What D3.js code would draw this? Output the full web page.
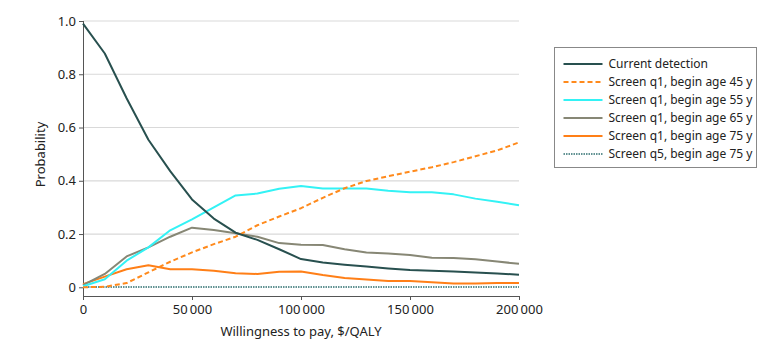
<!DOCTYPE html>
<html>
<head>
<meta charset="utf-8">
<script src="https://cdn.jsdelivr.net/npm/d3@7"></script>
<style>
  html, body { margin: 0; padding: 0; background: #fff; overflow: hidden; }
  .chart { width: 780px; height: 351px; }
  .chart svg { display: block; }
</style>
</head>
<body>
<div class="chart"></div>
<script>
// ----------------------------------
// DATA
// ----------------------------------
const wtp = [0, 10000, 20000, 30000, 40000, 50000, 60000, 70000, 80000, 90000, 100000,
             110000, 120000, 130000, 140000, 150000, 160000, 170000, 180000, 190000, 200000];

const currentDetection = [0.99, 0.878, 0.71, 0.554, 0.436, 0.33, 0.258, 0.205, 0.178, 0.143, 0.106,
                          0.093, 0.085, 0.078, 0.071, 0.065, 0.062, 0.059, 0.056, 0.052, 0.047];
const q1Age45 = [0.0, 0.002, 0.016, 0.056, 0.096, 0.131, 0.162, 0.19, 0.233, 0.266, 0.297,
                 0.336, 0.372, 0.399, 0.417, 0.434, 0.451, 0.47, 0.492, 0.514, 0.544];
const q1Age55 = [0.004, 0.03, 0.10, 0.15, 0.214, 0.255, 0.30, 0.345, 0.352, 0.37, 0.38,
                 0.371, 0.371, 0.371, 0.363, 0.357, 0.357, 0.349, 0.333, 0.321, 0.308];
const q1Age65 = [0.008, 0.05, 0.116, 0.15, 0.19, 0.224, 0.215, 0.203, 0.19, 0.166, 0.16,
                 0.159, 0.143, 0.131, 0.127, 0.121, 0.111, 0.11, 0.105, 0.097, 0.088];
const q1Age75 = [0.012, 0.04, 0.068, 0.083, 0.068, 0.068, 0.062, 0.053, 0.05, 0.058, 0.059,
                 0.046, 0.035, 0.029, 0.024, 0.024, 0.019, 0.014, 0.014, 0.016, 0.016];
const q5Age75 = [0.001, 0.001, 0.001, 0.001, 0.001, 0.001, 0.001, 0.001, 0.001, 0.001, 0.001,
                 0.001, 0.001, 0.001, 0.001, 0.001, 0.001, 0.001, 0.001, 0.001, 0.001];

const seriesNames = ['Current detection', 'Screen q1, begin age 45 y', 'Screen q1, begin age 55 y',
                     'Screen q1, begin age 65 y', 'Screen q1, begin age 75 y', 'Screen q5, begin age 75 y'];
const seriesValues = [currentDetection, q1Age45, q1Age55, q1Age65, q1Age75, q5Age75];
const xTicks = [0, 50000, 100000, 150000, 200000];
const yTicks = [0, 0.2, 0.4, 0.6, 0.8, 1.0];

// styles per series, same order as the names
const seriesColors = ['#28504f', '#ff8a1c', '#33f2f5', '#878775', '#ff7f17', '#2f6f70'];
const seriesDash = [null, '5,3', null, null, null, '1.5,1'];
const seriesWidth = [2, 2, 2, 2, 2, 1.6];

const FONT = '"Noto Sans", "DejaVu Sans", sans-serif';

// ----------------------------------
// SETUP
// ----------------------------------
const width = 780, height = 351,
      margin = { top: 21, right: 261, bottom: 63, left: 83 },
      innerWidth = width - margin.left - margin.right,
      innerHeight = height - margin.top - margin.bottom;

const xScale = d3.scaleLinear().domain([0, 200000]).range([0, innerWidth]);
const yScale = d3.scaleLinear().domain([0, 1]).range([innerHeight - 0.7, 0]);

const svg = d3.select('.chart').append('svg')
    .attr('width', width)
    .attr('height', height)
    .attr('font-family', FONT);

const chartInner = svg.append('g')
    .attr('transform', `translate(${margin.left},${margin.top})`);

// grid lines
chartInner.append('g').selectAll('line')
    .data(yTicks.filter(d => d > 0))
    .enter().append('line')
    .attr('x1', 0).attr('x2', innerWidth)
    .attr('y1', d => yScale(d)).attr('y2', d => yScale(d))
    .attr('stroke', '#d9d9d9').attr('stroke-width', 1.2);

// ----------------------------------
// AXES
// ----------------------------------
const fmtX = d => d === 0 ? '0' : d3.format(',')(d).replace(/,/g, '\u2009');
const fmtY = d => d === 0 ? '0' : d3.format('.1f')(d);

const axisY = 275;
const yAxis = chartInner.append('g')
    .call(d3.axisLeft(yScale).tickValues(yTicks).tickFormat(fmtY).tickSize(4).tickSizeOuter(0).tickPadding(3))
    .attr('font-family', FONT)
    .attr('font-size', 13);
yAxis.select('.domain').attr('d', `M0.5,${yScale(1)}V${axisY}`);

const xAxis = chartInner.append('g')
    .attr('transform', `translate(0,${axisY})`)
    .call(d3.axisBottom(xScale).tickValues(xTicks).tickFormat(fmtX).tickSize(4).tickSizeOuter(0).tickPadding(5))
    .attr('font-family', FONT)
    .attr('font-size', 13);

svg.selectAll('.domain, .tick line').attr('stroke', '#555');
svg.selectAll('.tick text').attr('fill', '#222');

// ----------------------------------
// LINES
// ----------------------------------
const line = d3.line()
    .x((d, i) => xScale(wtp[i]))
    .y(d => yScale(d));

// draw in reverse so current detection ends up on top
const order = [5, 4, 3, 2, 1, 0];
chartInner.selectAll('.series')
    .data(order)
    .enter().append('path')
    .attr('class', 'series')
    .attr('d', k => line(seriesValues[k]))
    .attr('fill', 'none')
    .attr('stroke', k => seriesColors[k])
    .attr('stroke-width', k => seriesWidth[k])
    .attr('stroke-dasharray', k => seriesDash[k])
    .attr('stroke-linejoin', 'round');

// ----------------------------------
// LABELS
// ----------------------------------
svg.append('text')
    .text('Willingness to pay, $/QALY')
    .attr('x', margin.left + innerWidth / 2)
    .attr('y', 336)
    .attr('text-anchor', 'middle')
    .attr('font-size', 13)
    .attr('fill', '#222');

svg.append('text')
    .text('Probability')
    .attr('transform', `translate(45,${margin.top + innerHeight / 2}) rotate(-90)`)
    .attr('text-anchor', 'middle')
    .attr('font-size', 13)
    .attr('fill', '#222');

// ----------------------------------
// LEGEND
// ----------------------------------
const legend = svg.append('g').attr('transform', 'translate(554.5,47.5)');
legend.append('rect')
    .attr('width', 202).attr('height', 120)
    .attr('fill', '#fff').attr('stroke', '#888').attr('stroke-width', 1);

const items = legend.selectAll('.item')
    .data(seriesNames)
    .enter().append('g')
    .attr('transform', (d, i) => `translate(0,${16.5 + i * 18})`);

items.append('line')
    .attr('x1', 9).attr('x2', 48)
    .attr('stroke', (d, i) => seriesColors[i])
    .attr('stroke-width', (d, i) => seriesWidth[i])
    .attr('stroke-dasharray', (d, i) => seriesDash[i]);

items.append('text')
    .text(d => d)
    .attr('x', 54)
    .attr('dy', '0.35em')
    .attr('font-size', 12)
    .attr('fill', '#222');
</script>
</body>
</html>
